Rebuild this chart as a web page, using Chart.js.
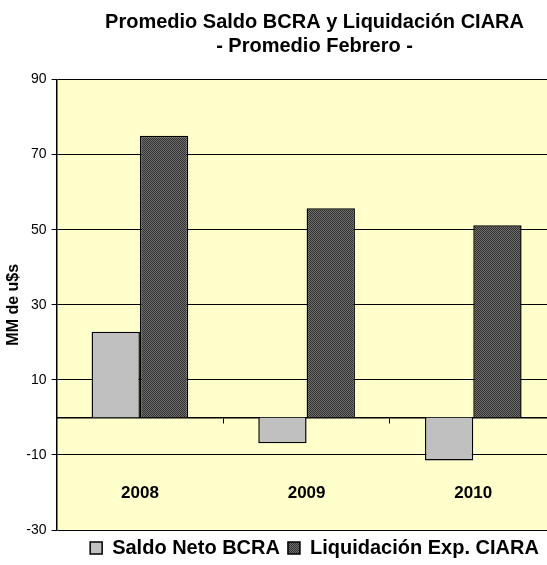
<!DOCTYPE html>
<html>
<head>
<meta charset="utf-8">
<script src="https://cdn.jsdelivr.net/npm/chart.js@4.4.1/dist/chart.umd.min.js"></script>
<style>
  html, body { margin: 0; padding: 0; background: #fff; overflow: hidden; }
  #wrap { width: 629px; height: 568px; }
</style>
</head>
<body>
<div id="wrap"><canvas id="saldoChart"></canvas></div>
<script>
// data
const categories = ['2008', '2009', '2010'];
const saldoNeto = [22.8, -6.9, -11.5];
const liquidacion = [75.0, 55.7, 51.2];
const seriesNames = ['Saldo Neto BCRA', 'Liquidación Exp. CIARA'];
const titleLines = ['Promedio Saldo BCRA y Liquidación CIARA', '- Promedio Febrero -'];

const fontName = '"Liberation Sans", Arial, sans-serif';

// dark hatched fill like the old excel pattern
function makePattern() {
  const c = document.createElement('canvas');
  c.width = 2; c.height = 2;
  const p = c.getContext('2d');
  p.fillStyle = '#707070'; p.fillRect(0, 0, 2, 2);
  p.fillStyle = '#303030'; p.fillRect(0, 0, 1, 1); p.fillRect(1, 1, 1, 1);
  return p.createPattern(c, 'repeat');
}
const darkFill = makePattern();

// yellow plot background
const plotBg = {
  id: 'plotBg',
  beforeDraw(chart) {
    const { ctx, chartArea: a } = chart;
    ctx.save();
    ctx.fillStyle = '#FFFFCC';
    ctx.fillRect(a.left, a.top, a.right - a.left, a.bottom - a.top);
    ctx.restore();
  }
};

const ctx = document.getElementById('saldoChart').getContext('2d');
const saldoChart = new Chart(ctx, {
  type: 'bar',
  data: {
    labels: categories,
    datasets: [{
      label: seriesNames[0],
      data: saldoNeto,
      backgroundColor: '#C0C0C0',
      borderColor: '#000',
      borderWidth: 1.5,
      categoryPercentage: 0.58,
      barPercentage: 1
    }, {
      label: seriesNames[1],
      data: liquidacion,
      backgroundColor: darkFill,
      borderColor: '#000',
      borderWidth: 1.5,
      categoryPercentage: 0.58,
      barPercentage: 1
    }]
  },
  options: {
    responsive: true,
    maintainAspectRatio: false,
    animation: false,
    layout: { padding: { left: 0, right: 0, top: 0, bottom: 0 } },
    plugins: {
      title: {
        display: true,
        text: titleLines,
        color: '#000',
        font: { family: fontName, size: 20, weight: 'bold', lineHeight: 1.2 },
        padding: { top: 10, bottom: 21.5 }
      },
      legend: {
        position: 'bottom',
        labels: {
          color: '#000',
          font: { family: fontName, size: 20, weight: 'bold' },
          boxWidth: 12,
          boxHeight: 12,
          padding: 8
        }
      },
      tooltip: { enabled: false }
    },
    scales: {
      x: {
        position: { y: 0 },
        offset: true,
        grid: {
          offset: true,
          drawOnChartArea: false,
          drawTicks: true,
          tickLength: 5,
          color: '#000'
        },
        border: { display: true, color: '#000', width: 1.5 },
        ticks: {
          color: '#000',
          font: { family: fontName, size: 17, weight: 'bold' },
          padding: 61
        }
      },
      y: {
        min: -30,
        max: 90,
        afterFit(s) { s.width = 56.6; },
        ticks: {
          stepSize: 20,
          color: '#000',
          font: { family: fontName, size: 14 },
          padding: 5
        },
        grid: { color: '#000', lineWidth: 1, tickLength: 5 },
        border: { display: true, color: '#000', width: 1.5 },
        title: {
          display: true,
          text: 'MM de u$s',
          color: '#000',
          font: { family: fontName, size: 16, weight: 'bold' },
          padding: { top: 4, bottom: 0 }
        }
      },
      yRight: {
        position: 'right',
        display: true,
        afterFit(s) { s.width = 629 - 556.6; },
        ticks: { display: false },
        grid: { display: false },
        border: { display: false }
      }
    }
  },
  plugins: [plotBg]
});
</script>
</body>
</html>
